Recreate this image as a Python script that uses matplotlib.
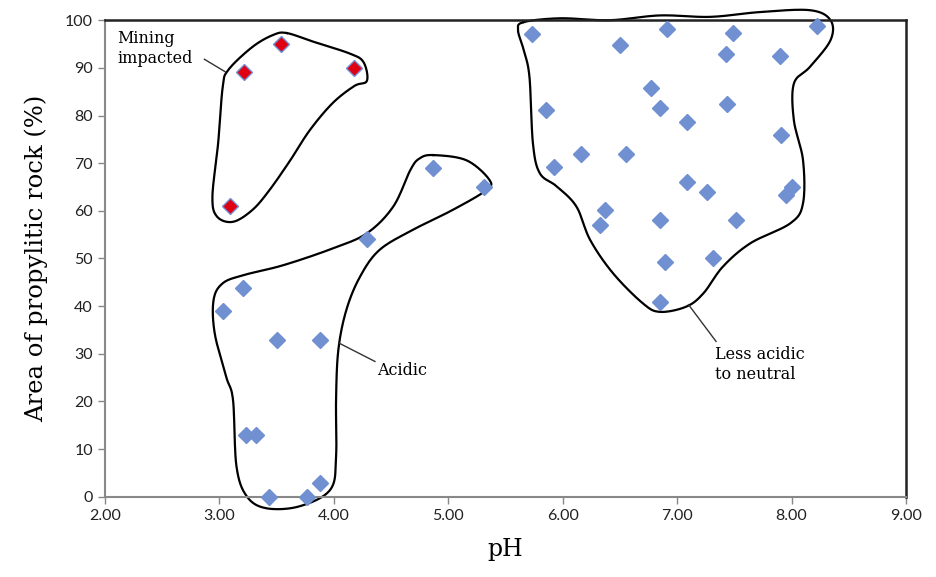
import numpy as np
import matplotlib.pyplot as plt

# measured points: pH vs area of propylitic rock (%)
mining_ph = [3.22, 3.54, 4.18, 3.09]
mining_area = [89.1, 95.0, 89.9, 61.0]

acidic_ph = [3.03, 3.21, 3.50, 3.88, 3.23, 3.32, 3.88, 3.43, 3.77, 4.29, 4.87, 5.31]
acidic_area = [39.0, 43.8, 32.9, 32.9, 13.0, 13.0, 2.9, 0.0, 0.0, 54.1, 69.0, 65.0]

neutral_ph = [5.73, 6.91, 7.49, 8.22, 6.50, 7.43, 7.90, 6.77, 5.85, 6.85, 7.44, 7.09,
              7.91, 6.16, 6.55, 5.92, 7.09, 7.26, 8.00, 7.95, 6.37, 6.33, 6.85, 7.51,
              6.89, 7.31, 6.85]
neutral_area = [97.2, 98.1, 97.3, 98.7, 94.8, 93.0, 92.5, 85.8, 81.1, 81.5, 82.5, 78.6,
                75.9, 72.0, 72.0, 69.2, 66.0, 64.0, 65.1, 63.3, 60.2, 57.0, 58.1, 58.1,
                49.3, 50.2, 40.8]

# hand-drawn group outlines (pH, area)
mining_outline = [(3.59, 97.3), (3.82, 95.5), (4.14, 93.0), (4.26, 91.2), (4.29, 87.3),
                  (4.18, 86.2), (3.99, 82.6), (3.79, 76.9), (3.62, 70.6), (3.44, 64.4),
                  (3.29, 60.2), (3.12, 57.7), (2.98, 58.8), (2.94, 63.0), (2.99, 74.2),
                  (3.03, 86.0), (3.08, 89.6), (3.29, 94.4), (3.47, 96.9)]
acidic_outline = [(4.87, 71.7), (5.16, 70.6), (5.36, 66.5), (5.33, 64.3), (5.04, 60.2),
                  (4.69, 56.0), (4.40, 51.8), (4.23, 46.2), (4.11, 39.2), (4.04, 30.8),
                  (4.02, 20.3), (4.02, 8.4), (3.97, 1.5), (3.70, -2.0), (3.41, -2.4),
                  (3.24, 0.1), (3.15, 6.4), (3.12, 20.3), (3.06, 25.2), (2.96, 34.3),
                  (2.95, 41.3), (3.03, 44.8), (3.21, 46.5), (3.56, 48.6), (3.99, 52.1),
                  (4.29, 55.3), (4.52, 60.9), (4.67, 68.6), (4.75, 71.0)]
neutral_outline = [(5.66, 99.6), (5.98, 100.4), (6.41, 100.0), (6.85, 101.0), (7.29, 100.7),
                   (7.72, 101.7), (8.16, 102.1), (8.34, 100.0), (8.34, 95.8), (8.16, 90.2),
                   (8.02, 86.7), (8.02, 79.0), (8.10, 70.6), (8.10, 61.6), (7.99, 57.4),
                   (7.64, 53.2), (7.40, 48.3), (7.23, 42.7), (7.08, 39.9), (6.85, 38.8),
                   (6.70, 40.6), (6.44, 46.9), (6.24, 53.9), (6.12, 60.9), (5.95, 65.1),
                   (5.80, 67.9), (5.74, 74.2), (5.71, 88.1), (5.66, 93.7), (5.61, 97.9)]

x_ticks = [2, 3, 4, 5, 6, 7, 8, 9]
y_ticks = [0, 10, 20, 30, 40, 50, 60, 70, 80, 90, 100]


def closed_spline(pts, n=20):
    # closed catmull-rom through the outline points
    p = np.array(pts)
    m = len(p)
    out = []
    t = np.linspace(0, 1, n, endpoint=False)[:, None]
    for i in range(m):
        p0, p1, p2, p3 = p[i - 1], p[i], p[(i + 1) % m], p[(i + 2) % m]
        seg = 0.5 * ((2 * p1) + (-p0 + p2) * t + (2 * p0 - 5 * p1 + 4 * p2 - p3) * t ** 2
                     + (-p0 + 3 * p1 - 3 * p2 + p3) * t ** 3)
        out.append(seg)
    out = np.vstack(out)
    return np.vstack([out, out[:1]])


blue = '#7090d2'
serif = 'DejaVu Serif'

fig = plt.figure(figsize=(9.36, 5.77), dpi=100)
ax = fig.add_axes([0.112, 0.139, 0.856, 0.826])

for outline in [mining_outline, acidic_outline, neutral_outline]:
    c = closed_spline(outline)
    ax.plot(c[:, 0], c[:, 1], color='black', lw=1.6, clip_on=False, zorder=2)

ax.plot(acidic_ph, acidic_area, 'D', ms=8.5, color=blue, mec=blue, zorder=3, clip_on=False)
ax.plot(neutral_ph, neutral_area, 'D', ms=8.5, color=blue, mec=blue, zorder=3, clip_on=False)
ax.plot(mining_ph, mining_area, 'D', ms=8.5, color='#e00014', mec=blue, mew=1, zorder=3,
        clip_on=False)

# leaders and labels
ax.plot([2.87, 3.05], [91.8, 89.2], color='#333333', lw=1)
ax.text(2.11, 98.0, 'Mining\nimpacted', family=serif, fontsize=11.5, va='top', ha='left',
        linespacing=1.25)
ax.plot([4.05, 4.36], [32.2, 28.4], color='#333333', lw=1)
ax.text(4.38, 26.6, 'Acidic', family=serif, fontsize=11.5, va='center', ha='left')
ax.plot([7.10, 7.34], [40.3, 32.6], color='#333333', lw=1)
ax.text(7.33, 31.6, 'Less acidic\nto neutral', family=serif, fontsize=11.5, va='top',
        ha='left', linespacing=1.25)

ax.set_xlim(2, 9)
ax.set_ylim(0, 100)
ax.set_xticks(x_ticks)
ax.set_xticklabels(['%.2f' % v for v in x_ticks])
ax.set_yticks(y_ticks)
ax.tick_params(axis='both', labelsize=11.5, labelcolor='#222222', length=5, width=1,
               direction='out', color='#888888')
for lab in ax.get_xticklabels() + ax.get_yticklabels():
    lab.set_family('Lato')
ax.spines['left'].set_color('#888888')
ax.spines['bottom'].set_color('#888888')
ax.spines['left'].set_linewidth(1.5)
ax.spines['bottom'].set_linewidth(1.5)
ax.spines['top'].set_color('#222222')
ax.spines['right'].set_color('#222222')
ax.spines['top'].set_linewidth(1.8)
ax.spines['right'].set_linewidth(1.8)

ax.set_xlabel('pH', family=serif, fontsize=17, labelpad=11)
ax.set_ylabel('Area of propylitic rock (%)', family=serif, fontsize=17.5, labelpad=12)

fig.savefig('out.png', dpi=100)
